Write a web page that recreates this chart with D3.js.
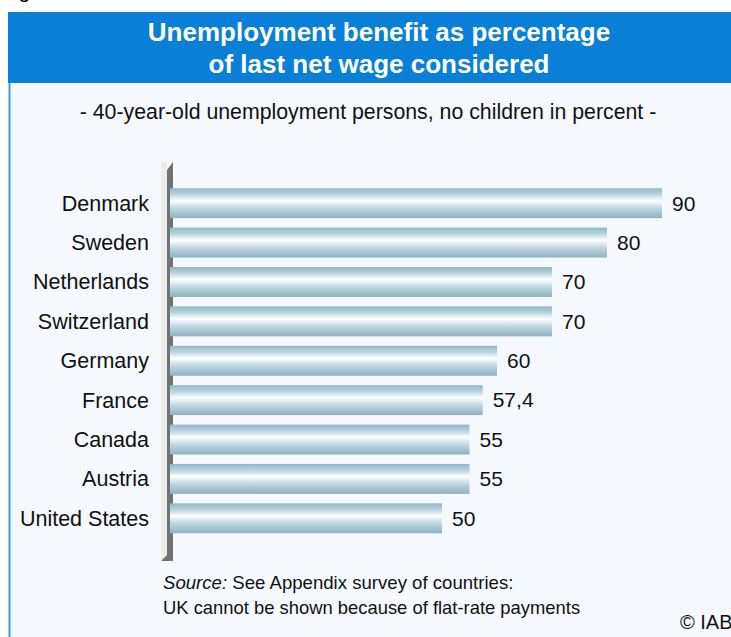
<!DOCTYPE html>
<html>
<head>
<meta charset="utf-8">
<script src="https://cdn.jsdelivr.net/npm/d3@7"></script>
<style>
  body { margin: 0; background: #ffffff; }
  svg { display: block; font-family: "Liberation Sans", Arial, sans-serif; }
</style>
</head>
<body>
<script>
// Data
var countries = ["Denmark", "Sweden", "Netherlands", "Switzerland", "Germany", "France", "Canada", "Austria", "United States"];
var benefits = [90, 80, 70, 70, 60, 57.4, 55, 55, 50];
var valueLabels = ["90", "80", "70", "70", "60", "57,4", "55", "55", "50"];
var titleLines = ["Unemployment benefit as percentage", "of last net wage considered"];

var data = countries.map(function(c, i) {
    return { country: c, value: benefits[i], label: valueLabels[i] };
});

var W = 731, H = 637;

var svg = d3.select("body").append("svg")
    .attr("width", W)
    .attr("height", H);

// cut-off figure caption at the very top
svg.append("text")
    .attr("x", 1)
    .attr("y", -2)
    .style("font-size", "21px")
    .text("Fig");

// panel background and left border
svg.append("rect")
    .attr("x", 9).attr("y", 83)
    .attr("width", W).attr("height", H)
    .attr("fill", "#f5f9fe");
svg.append("line")
    .attr("x1", 9.5).attr("x2", 9.5)
    .attr("y1", 83).attr("y2", H)
    .attr("stroke", "#3a9be6")
    .attr("stroke-width", 2);

// header
svg.append("rect")
    .attr("x", 8).attr("y", 12)
    .attr("width", W).attr("height", 71)
    .attr("fill", "#0a7fd8");

svg.selectAll(".title")
    .data(titleLines)
    .enter().append("text")
    .attr("class", "title")
    .attr("x", 379)
    .attr("y", function(d, i) { return 41 + i * 32; })
    .attr("text-anchor", "middle")
    .attr("fill", "#ffffff")
    .style("font-size", "26px")
    .style("font-weight", "bold")
    .text(function(d) { return d; });

svg.append("text")
    .attr("x", 368)
    .attr("y", 119)
    .attr("text-anchor", "middle")
    .style("font-size", "21.3px")
    .attr("fill", "#111")
    .text("- 40-year-old unemployment persons, no children in percent -");

// scales
var x = d3.scaleLinear()
    .domain([0, 90])
    .range([167, 662]);

var y = d3.scaleBand()
    .domain(countries)
    .range([183.5, 538])
    .paddingInner(0.24)
    .paddingOuter(0.12);

// bar gradient
var defs = svg.append("defs");
var grad = defs.append("linearGradient")
    .attr("id", "barGrad")
    .attr("x1", 0).attr("y1", 0)
    .attr("x2", 0).attr("y2", 1);
grad.append("stop").attr("offset", "0%").attr("stop-color", "#93b7c7");
grad.append("stop").attr("offset", "20%").attr("stop-color", "#b7d2dd");
grad.append("stop").attr("offset", "42%").attr("stop-color", "#ffffff");
grad.append("stop").attr("offset", "65%").attr("stop-color", "#c3dae3");
grad.append("stop").attr("offset", "100%").attr("stop-color", "#8db0c0");

// 3D axis wall
svg.append("path")
    .attr("d", "M161,162 L167,162 L167,561 L161,561 Z")
    .attr("fill", "#ececec");
svg.append("path")
    .attr("d", "M167,170 L173,162 L173,561 L161,561 L167,555 Z")
    .attr("fill", "#727272");

// bars
svg.selectAll(".bar")
    .data(data)
    .enter().append("rect")
    .attr("class", "bar")
    .attr("x", 170)
    .attr("y", function(d) { return y(d.country); })
    .attr("width", function(d) { return x(d.value) - 170; })
    .attr("height", y.bandwidth())
    .attr("fill", "url(#barGrad)");

// value labels
svg.selectAll(".val")
    .data(data)
    .enter().append("text")
    .attr("class", "val")
    .attr("x", function(d) { return x(d.value) + 10; })
    .attr("y", function(d) { return y(d.country) + y.bandwidth() / 2; })
    .attr("dy", "0.35em")
    .style("font-size", "21px")
    .attr("fill", "#111")
    .text(function(d) { return d.label; });

// category labels
svg.selectAll(".cat")
    .data(data)
    .enter().append("text")
    .attr("class", "cat")
    .attr("x", 149)
    .attr("y", function(d) { return y(d.country) + y.bandwidth() / 2; })
    .attr("dy", "0.35em")
    .attr("text-anchor", "end")
    .style("font-size", "21.5px")
    .attr("fill", "#111")
    .text(function(d) { return d.country; });

// source note
var src = svg.append("text")
    .attr("x", 163)
    .attr("y", 589)
    .style("font-size", "18.6px")
    .attr("fill", "#111");
src.append("tspan").style("font-style", "italic").text("Source:");
src.append("tspan").text(" See Appendix survey of countries:");
svg.append("text")
    .attr("x", 163)
    .attr("y", 614)
    .style("font-size", "18.4px")
    .attr("fill", "#111")
    .text("UK cannot be shown because of flat-rate payments");

svg.append("text")
    .attr("x", 680)
    .attr("y", 629)
    .style("font-size", "20px")
    .attr("fill", "#111")
    .text("\u00A9 IAB");
</script>
</body>
</html>
